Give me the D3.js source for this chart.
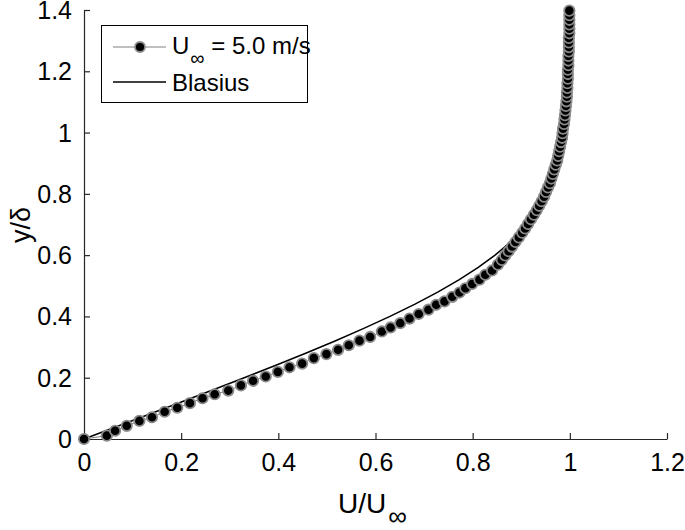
<!DOCTYPE html>
<html><head><meta charset="utf-8">
<script src="https://cdn.jsdelivr.net/npm/d3@7"></script>
<style>body{margin:0;background:#fff;} text{font-family:"Liberation Sans",Arial,sans-serif;fill:#000;}</style>
</head><body><svg id="c" width="685" height="530"></svg>
<script>
// Measured profile (U/U_inf vs y/delta)
const measY = [0,0.011,0.027,0.043,0.059,0.071,0.089,0.102,0.117,0.133,0.146,0.158,0.175,0.190,0.204,0.219,0.234,0.246,0.264,0.277,0.291,0.306,0.321,0.333,0.351,0.364,0.378,0.393,0.408,0.422,0.438,0.449,0.464,0.478,0.492,0.506,0.520,0.536,0.550,0.569,
0.584,0.599,0.613,0.628,0.643,0.658,0.673,0.687,0.702,0.717,0.732,0.747,0.761,0.776,0.791,0.806,0.821,0.835,0.850,0.865,0.880,0.895,0.909,0.924,0.939,0.954,0.969,0.983,0.998,1.013,1.028,1.043,1.057,1.072,1.087,1.102,1.117,1.131,1.146,1.161,1.176,1.191,1.205,1.220,1.235,1.250,1.265,1.279,1.294,1.309,1.324,1.339,1.353,1.368,1.383,1.398];
const measU = [0,0.047,0.064,0.088,0.114,0.140,0.166,0.192,0.218,0.244,0.269,0.297,0.323,0.348,0.374,0.399,0.423,0.449,0.473,0.499,0.523,0.545,0.567,0.589,0.613,0.631,0.651,0.670,0.689,0.709,0.725,0.742,0.758,0.773,0.785,0.799,0.814,0.826,0.840,0.852,
0.860,0.867,0.874,0.881,0.888,0.895,0.902,0.908,0.914,0.920,0.926,0.932,0.937,0.942,0.947,0.951,0.955,0.959,0.962,0.965,0.968,0.971,0.974,0.976,0.978,0.980,0.982,0.984,0.985,0.986,0.988,0.989,0.990,0.991,0.992,0.993,0.994,0.994,0.995,0.995,0.996,0.996,0.996,0.997,0.997,0.997,0.998,0.998,0.998,0.998,0.999,0.999,0.999,0.999,0.999,0.999];
// Blasius solution
const blasY = [0,0.04,0.08,0.12,0.16,0.20,0.24,0.28,0.32,0.36,0.40,0.44,0.48,0.52,0.56,0.60,0.64,0.68,0.72,0.76,0.80,0.84,0.88,0.92,0.96,1.00,1.04,1.08,1.12,1.16,1.20,1.24,1.28,1.32,1.36,1.40];
const blasU = [0,0.06641,0.13277,0.19894,0.26471,0.32979,0.39378,0.45627,0.51676,0.57477,0.62977,0.68132,0.72899,0.77246,0.81152,0.84605,0.87609,0.90177,0.92333,0.94112,0.95552,0.96696,0.97587,0.98269,0.98779,0.99155,0.99425,0.99616,0.99748,0.99838,0.99898,0.99937,0.99961,0.99977,0.99987,0.99992];
const xTicks = [0,0.2,0.4,0.6,0.8,1,1.2];
const yTicks = [0,0.2,0.4,0.6,0.8,1,1.2,1.4];
const legendLabels = ["U", "\u221E", " = 5.0 m/s", "Blasius"];

const svg = d3.select("#c");
const x = d3.scaleLinear().domain([0,1.2]).range([84,667]);
const y = d3.scaleLinear().domain([0,1.4]).range([439,10]);
const axisCol = "#262626";

const xAxis = svg.append("g").attr("transform","translate(0,439)")
  .call(d3.axisBottom(x).tickValues(xTicks).tickFormat(d3.format("")).tickSizeInner(-6).tickSizeOuter(0).tickPadding(14));
const yAxis = svg.append("g").attr("transform","translate(84,0)")
  .call(d3.axisLeft(y).tickValues(yTicks).tickFormat(d3.format("")).tickSizeInner(-6).tickSizeOuter(0).tickPadding(12));
[xAxis,yAxis].forEach(a=>{
  a.select(".domain").attr("stroke",axisCol).attr("stroke-width",1.2);
  a.selectAll(".tick line").attr("stroke",axisCol).attr("stroke-width",1.2);
  a.selectAll(".tick text").attr("font-size",25).attr("fill","#000").style("font-family","'Liberation Sans',Arial,sans-serif");
});
yAxis.selectAll(".tick text").attr("dy","0.34em");

// Blasius line
svg.append("path").datum(blasY.map((v,i)=>[blasU[i],v]))
  .attr("fill","none").attr("stroke","#000").attr("stroke-width",1.5)
  .attr("d", d3.line().x(d=>x(d[0])).y(d=>y(d[1])));
// measured
const md = measY.map((v,i)=>[measU[i],v]);
svg.append("path").datum(md).attr("fill","none").attr("stroke","#808080").attr("stroke-width",1)
  .attr("d", d3.line().x(d=>x(d[0])).y(d=>y(d[1])));
svg.append("g").selectAll("circle").data(md).join("circle")
  .attr("cx",d=>x(d[0])).attr("cy",d=>y(d[1])).attr("r",5.2)
  .attr("fill","#000").attr("stroke","#8a8a8a").attr("stroke-width",1.8);

// legend
const lg = svg.append("g");
lg.append("rect").attr("x",101.5).attr("y",25.5).attr("width",206).attr("height",77).attr("fill","#fff").attr("stroke","#000").attr("stroke-width",1);
lg.append("line").attr("x1",113).attr("x2",166).attr("y1",47).attr("y2",47).attr("stroke","#808080").attr("stroke-width",1);
lg.append("circle").attr("cx",140).attr("cy",47).attr("r",5).attr("fill","#000").attr("stroke","#8a8a8a").attr("stroke-width",1.8);
lg.append("line").attr("x1",113).attr("x2",166).attr("y1",82).attr("y2",82).attr("stroke","#000").attr("stroke-width",1.5);
const t1 = lg.append("text").attr("x",172).attr("y",54).attr("font-size",24);
t1.append("tspan").text(legendLabels[0]);
t1.append("tspan").attr("font-size",20).attr("dy",11).attr("dx",1).text(legendLabels[1]);
t1.append("tspan").attr("dy",-11).attr("dx",0).text(legendLabels[2]);
lg.append("text").attr("x",172).attr("y",91).attr("font-size",24).text(legendLabels[3]);

// axis labels
const xl = svg.append("text").attr("x",338).attr("y",513).attr("font-size",28);
xl.append("tspan").text("U/U");
xl.append("tspan").attr("font-size",26).attr("dy",12).attr("dx",2).text("\u221E");
svg.append("text").attr("transform","translate(30,225) rotate(-90)").attr("text-anchor","middle").attr("font-size",27).text("y/\u03B4");
</script></body></html>
